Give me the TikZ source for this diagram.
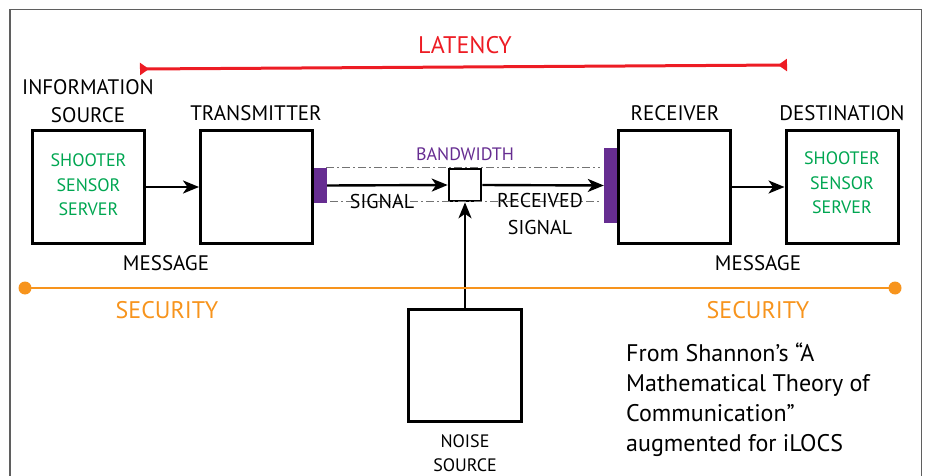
\documentclass[tikz,border=0pt]{standalone}
\usepackage{fontspec}
\setmainfont{PT Sans}
\usetikzlibrary{arrows.meta,positioning}
\definecolor{rossolat}{RGB}{237,28,36}
\definecolor{verdetxt}{RGB}{0,166,81}
\definecolor{arancio}{RGB}{247,148,29}
\definecolor{viola}{RGB}{102,45,145}
\definecolor{cornice}{RGB}{95,95,95}

\begin{document}
\begin{tikzpicture}[x=1pt, y=-1pt,
  blocco/.style={draw, line width=3pt, minimum width=112, minimum height=112, inner sep=0pt},
  etichetta/.style={font=\fontsize{21}{28}\selectfont, align=center, inner sep=0pt},
  verde/.style={text=verdetxt, font=\fontsize{18}{24.5}\selectfont, align=center},
  freccia/.style={line width=2.4pt, -{Stealth[length=16pt, width=13pt, inset=4.5pt]}},
  banda/.style={fill=viola, draw=none, minimum width=13, inner sep=0pt},
  tratteggio/.style={draw=gray!90!black, line width=1pt, dash pattern=on 8pt off 3pt on 2pt off 3pt}]

\useasboundingbox (0,0) rectangle (927,476);
% cornice esterna (aperta in basso)
\draw[cornice, line width=1.6pt] (10,476) -- (10,9.5) -- (921.5,9.5) -- (921.5,476);

% --- Latenza ---
\node[text=rossolat, font=\fontsize{24}{28}\selectfont] (lat) at (465,45) {LATENCY};
\coordinate (latA) at (140,69);
\coordinate (latB) at (787,65);
\draw[rossolat, line width=3pt, {Triangle[reversed, length=9pt, width=12pt]}-{Triangle[reversed, length=9pt, width=12pt]}] (latA) -- (latB);

% --- Blocchi ---
\node[blocco] (src) at (88.5,187) {};
\node[blocco] (tx) at (256.5,187) {};
\node[blocco] (rx) at (674.5,187) {};
\node[blocco] (dst) at (842,187) {};
\node[blocco, minimum width=113] (noise) at (465,365.5) {};
\node[draw, line width=2.6pt, minimum size=32, inner sep=0pt] (jn) at (465,185) {};

\node[verde] (srctxt) at (88.5,185) {SHOOTER\\SENSOR\\SERVER};
\node[verde] (dsttxt) at (842,183) {SHOOTER\\SENSOR\\SERVER};

% bande viola sul canale
\node[banda, minimum height=35] (txbar) at (320.5,185.5) {};
\node[banda, minimum height=75] (rxbar) at (610.5,185.5) {};

% limiti di banda (tratto-punto)
\coordinate (bwA) at (326,168);
\coordinate (bwB) at (600,168);
\coordinate (bwC) at (330,202);
\coordinate (bwD) at (600,202);
\draw[tratteggio] (bwA) -- (bwB);
\draw[tratteggio] (bwC) -- (bwD);

% --- Frecce ---
\draw[freccia] (src.east) -- (tx.west);
\draw[freccia] (txbar.east) -- (jn.west);
\draw[freccia] (jn.east) -- (rxbar.west);
\draw[freccia] (rx.east) -- (dst.west);
\draw[freccia] (noise.north) -- (jn.south);

% --- Etichette ---
\node[etichetta] (srclab) at (88,101) {INFORMATION\\SOURCE};
\node[etichetta] (txlab) at (256,113) {TRANSMITTER};
\node[etichetta] (rxlab) at (675,113) {RECEIVER};
\node[etichetta] (dstlab) at (842,113) {DESTINATION};
\node[etichetta] (msg1) at (166,263) {MESSAGE};
\node[etichetta] (msg2) at (758,263) {MESSAGE};
\node[text=viola, font=\fontsize{18}{22}\selectfont] (bw) at (465,154) {BANDWIDTH};
\node[etichetta, font=\fontsize{20}{27}\selectfont] (sig) at (382,201) {SIGNAL};
\node[etichetta, font=\fontsize{20}{27}\selectfont] (rsig) at (540,214) {RECEIVED\\SIGNAL};
\node[etichetta, font=\fontsize{18}{24}\selectfont] (noiselab) at (465,453) {NOISE\\SOURCE};

% --- Sicurezza ---
\coordinate (secA) at (25,288);
\coordinate (secB) at (895,288);
\draw[arancio, line width=2.6pt] (secA) -- (secB);
\fill[arancio] (secA) circle (6.5) (secB) circle (6.5);
\node[text=arancio, font=\fontsize{24}{28}\selectfont] (sec1) at (167,310) {SECURITY};
\node[text=arancio, font=\fontsize{24}{28}\selectfont] (sec2) at (758,310) {SECURITY};

% nota
\node[anchor=west, align=left, inner sep=0pt, font=\fontsize{24}{30}\selectfont] (nota) at (626,400)
  {From Shannon’s “A\\Mathematical Theory of\\Communication”\\augmented for iLOCS};

\end{tikzpicture}
\end{document}
